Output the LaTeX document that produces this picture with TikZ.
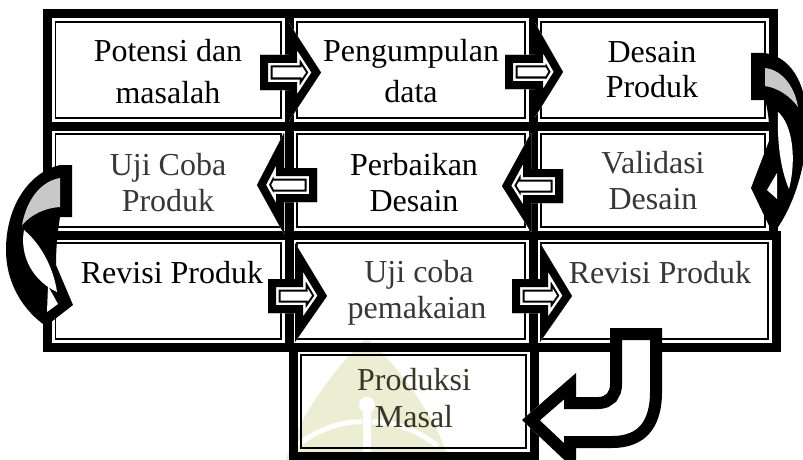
\documentclass[tikz,border=0pt]{standalone}
\usepackage{fontspec}
\setmainfont{Liberation Serif}
\definecolor{wm}{RGB}{236,238,211}
\definecolor{txtgray}{RGB}{55,55,55}
\definecolor{txtolive}{RGB}{55,55,40}
\definecolor{crescent}{RGB}{200,200,200}
\tikzset{
  boxnode/.style={draw=black, line width=9pt, inner sep=0pt, outer sep=0pt, rectangle},
  innerline/.style={draw=black, line width=1.8pt},
  lbl/.style={anchor=base, inner sep=0pt, font=\fontsize{32}{38}\selectfont},
}
\newcommand{\mybox}[5]{%
  \node[boxnode, minimum width={#4-#2}, minimum height={#5-#3}] (#1) at ({(#2+#4)/2},{(#3+#5)/2}) {};
  \draw[innerline] ([shift={(8,8)}]#1.north west) rectangle ([shift={(-8,-8)}]#1.south east);}
\newcommand{\blockarrow}[7]{%
  \def\arrpath{(#1,{#4-#7}) -- (#2,{#4-#7}) -- (#2,#5) -- (#3,#4) -- (#2,#6) -- (#2,{#4+#7}) -- (#1,{#4+#7}) -- cycle}%
  \begin{scope}
    \clip \arrpath;
    \fill[white] \arrpath;
    \draw[line width=25pt] \arrpath;
    \draw[white, line width=21pt] \arrpath;
    \draw[line width=16pt] \arrpath;
  \end{scope}}
\begin{document}
\begin{tikzpicture}[x=1pt,y=-1pt]
\useasboundingbox (0,0) rectangle (803,460);
\clip (0,0) rectangle (803,460);
% watermark
\fill[wm] (285,462) .. controls (300,412) and (340,362) .. (367,338) .. controls (394,362) and (434,412) .. (450,462) -- cycle;
\fill[white] (367,405) circle[radius=8];
\fill[white] (363,405) rectangle (371,462);
\draw[white, line width=5pt] (296,446) .. controls (320,428) and (343,421) .. (362,422);
\draw[white, line width=5pt] (438,446) .. controls (414,428) and (391,421) .. (372,422);
% boxes
\mybox{b11}{47.5}{14}{289}{126}
\mybox{b12}{289}{14}{533}{126}
\mybox{b13}{533}{14}{773}{126}
\mybox{b21}{47.5}{126}{289}{235}
\mybox{b22}{289}{126}{533}{235}
\mybox{b23}{533}{126}{773}{235}
\mybox{b31}{47.5}{235}{289}{347}
\mybox{b32}{289}{235}{533}{347}
\mybox{b33}{533}{235}{776}{347}
\mybox{b4}{293}{347}{534}{456}
% texts
\node[lbl] (t11a) at (168,62) {Potensi dan};
\node[lbl] (t11b) at (168,103) {masalah};
\node[lbl] (t12a) at (411,62) {Pengumpulan};
\node[lbl] (t12b) at (411,102) {data};
\node[lbl] (t13a) at (652,63) {Desain};
\node[lbl] (t13b) at (652,97) {Produk};
\node[lbl, text=txtgray] (t21a) at (168,175) {Uji Coba};
\node[lbl, text=txtgray] (t21b) at (168,211) {Produk};
\node[lbl] (t22a) at (414,175) {Perbaikan};
\node[lbl] (t22b) at (414,211) {Desain};
\node[lbl, text=txtgray] (t23a) at (653,173) {Validasi};
\node[lbl, text=txtgray] (t23b) at (653,209) {Desain};
\node[lbl] (t31) at (172,283) {Revisi Produk};
\node[lbl, text=txtgray] (t32a) at (419,282) {Uji coba};
\node[lbl, text=txtgray] (t32b) at (417,318) {pemakaian};
\node[lbl, text=txtgray] (t33) at (660,283) {Revisi Produk};
\node[lbl, text=txtolive] (t4a) at (414,390) {Produksi};
\node[lbl, text=txtolive] (t4b) at (414,427) {Masal};
% straight block arrows
\blockarrow{260}{289}{321}{72.5}{23}{121}{17.5}
\blockarrow{505}{535}{563}{72}{23}{117}{17}
\blockarrow{563}{531}{502}{186}{133}{232}{17}
\blockarrow{317}{284}{257}{185}{133}{234}{17}
\blockarrow{268}{295}{327}{296}{243}{342}{17}
\blockarrow{512}{540}{572}{296}{243}{342}{17}
% right curved arrow
\fill (751,53) -- (765,53) .. controls (795,58) and (808,90) .. (807,128) .. controls (806,170) and (792,210) .. (773,234) -- (751,188) -- (769,141) .. controls (770,125) and (768,110) .. (765,100) -- (751,100) -- cycle;
\fill[crescent] (765,68) .. controls (783,70) and (795,88) .. (798,107) .. controls (790,96) and (778,88) .. (765,86) -- cycle;
\fill[white] (778,112) .. controls (792,124) and (797,158) .. (789,189) .. controls (780,168) and (777,140) .. (778,112) -- cycle;
\fill[white] (767,190) -- (777,173) -- (777,199) -- cycle;
% left curved arrow
\fill (72,165) -- (60,165) .. controls (30,172) and (6,205) .. (6,250) .. controls (6,285) and (25,312) .. (46,326) -- (73,305) -- (56,265) .. controls (56,245) and (58,230) .. (60,217) -- (72,217) -- cycle;
\fill[crescent] (60,178) .. controls (42,181) and (27,198) .. (22,225) .. controls (32,214) and (45,208) .. (60,207) -- cycle;
\fill[white] (24,230) .. controls (42,245) and (54,270) .. (57,292) .. controls (35,282) and (19,258) .. (24,230) -- cycle;
\fill[white] (58,304) -- (48,286) -- (47,312) -- cycle;
% U-turn arrow
\def\upath{(610,328) -- (662,328) -- (662,392) .. controls (662,428) and (645,448) .. (612,448) -- (576,448) -- (576,471) -- (522,420) -- (576,373) -- (576,397) -- (598,397) .. controls (606,397) and (610,392) .. (610,384) -- cycle}
\begin{scope}
  \clip \upath;
  \fill[white] \upath;
  \draw[line width=24pt] \upath;
\end{scope}
\end{tikzpicture}
\end{document}
